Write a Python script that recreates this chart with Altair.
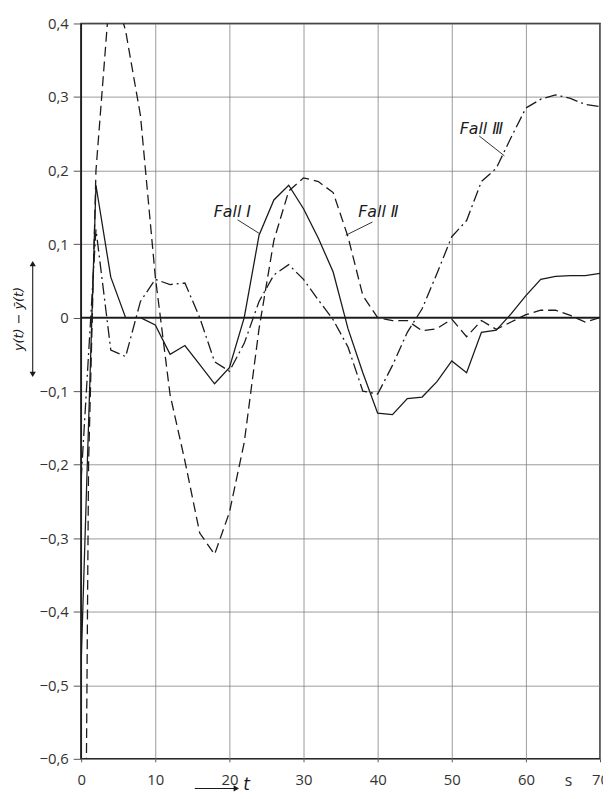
import altair as alt
import pandas as pd

# ---------------- data ----------------
t_fall1 = [0, 2, 4, 6, 8, 10, 12, 14, 16, 18, 20, 22, 24, 26, 28, 30, 32, 34,
           36, 38, 40, 42, 44, 46, 48, 50, 52, 54, 56, 58, 60, 62, 64, 66, 68, 70]
y_fall1 = [-0.47, 0.18, 0.055, 0.0, 0.0, -0.01, -0.05, -0.038, -0.064, -0.09,
           -0.068, 0.0, 0.112, 0.16, 0.18, 0.148, 0.108, 0.062, -0.015, -0.075,
           -0.13, -0.132, -0.11, -0.108, -0.087, -0.059, -0.075, -0.02, -0.017,
           0.005, 0.03, 0.052, 0.056, 0.057, 0.057, 0.06]

t_fall2 = [0, 1, 2, 4, 6, 8, 10, 12, 14, 16, 18, 20, 22, 24, 26, 28, 30, 32, 34,
           36, 38, 40, 42, 44, 46, 48, 50, 52, 54, 56, 58, 60, 62, 64, 66, 68, 70]
y_fall2 = [-1.6, -0.2, 0.2, 0.46, 0.39, 0.275, 0.056, -0.105, -0.195, -0.293,
           -0.322, -0.265, -0.17, -0.015, 0.105, 0.172, 0.19, 0.185, 0.17, 0.11,
           0.03, 0.0, -0.004, -0.004, -0.018, -0.015, -0.002, -0.026, -0.004,
           -0.016, -0.006, 0.004, 0.01, 0.01, 0.003, -0.006, 0.0]

t_fall3 = [0, 2, 4, 6, 8, 10, 12, 14, 16, 18, 20, 22, 24, 26, 28, 30, 32, 34,
           36, 38, 40, 42, 44, 46, 48, 50, 52, 54, 56, 58, 60, 62, 64, 66, 68, 70]
y_fall3 = [-0.22, 0.12, -0.044, -0.053, 0.022, 0.052, 0.045, 0.047, 0.0, -0.06,
           -0.073, -0.035, 0.022, 0.058, 0.072, 0.052, 0.024, -0.003, -0.04, -0.1,
           -0.104, -0.065, -0.02, 0.012, 0.06, 0.11, 0.132, 0.185, 0.203, 0.245,
           0.285, 0.297, 0.303, 0.298, 0.29, 0.287]

x_ticks = [0, 10, 20, 30, 40, 50, 60, 70]
y_ticks = [-0.6, -0.5, -0.4, -0.3, -0.2, -0.1, 0.0, 0.1, 0.2, 0.3, 0.4]

label_text = ["Fall \u2160", "Fall \u2161", "Fall \u2162"]
label_t = [20.4, 40.1, 54.0]
label_y = [0.144, 0.144, 0.257]
leader_t1 = [21.1, 39.3, 53.7]
leader_y1 = [0.133, 0.130, 0.247]
leader_t2 = [24.1, 35.7, 57.1]
leader_y2 = [0.114, 0.112, 0.220]

# ---------------- chart ----------------
FONT = "Open Sans"
INK = "#1a1a1a"

xs = alt.Scale(domain=[0, 70], nice=False, zero=False)
ys = alt.Scale(domain=[-0.6, 0.4], nice=False, zero=False)

x_axis = alt.Axis(values=x_ticks, format="d", title=None, grid=True,
                  gridColor="#808080", gridWidth=0.8, domain=False,
                  tickColor="#555", tickSize=3, labelPadding=11,
                  labelFlush=False, labelOverlap=False, labelBound=False,
                  labelFont=FONT, labelFontSize=15, labelColor="#333")
y_axis = alt.Axis(values=y_ticks, title=None, grid=True,
                  labelExpr="datum.value == 0 ? '0' : replace(format(datum.value, '.1f'), '.', ',')",
                  gridColor="#808080", gridWidth=0.8, domain=False,
                  tickColor="#555", tickSize=8, labelPadding=5,
                  labelOverlap=False, labelFont=FONT, labelFontSize=15,
                  labelColor="#333")


def X(field):
    return alt.X(field, scale=xs, axis=x_axis, title=None)


def Y(field):
    return alt.Y(field, scale=ys, axis=y_axis, title=None)


df1 = pd.DataFrame({"t": t_fall1, "v": y_fall1})
df2 = pd.DataFrame({"t": t_fall2, "v": y_fall2})
df3 = pd.DataFrame({"t": t_fall3, "v": y_fall3})

l1 = alt.Chart(df1).mark_line(color=INK, strokeWidth=1.3, clip=True).encode(
    x=X("t:Q"), y=Y("v:Q"))
l2 = alt.Chart(df2).mark_line(color=INK, strokeWidth=1.3, clip=True,
                              strokeDash=[10, 5]).encode(
    x=X("t:Q"), y=Y("v:Q"))
l3 = alt.Chart(df3).mark_line(color=INK, strokeWidth=1.3, clip=True,
                              strokeDash=[12, 4, 2, 4]).encode(
    x=X("t:Q"), y=Y("v:Q"))

zero = alt.Chart(pd.DataFrame({"z": [0.0]})).mark_rule(
    color=INK, strokeWidth=1.6).encode(y=Y("z:Q"))

left_edge = alt.Chart(pd.DataFrame({"z": [0.0]})).mark_rule(
    color=INK, strokeWidth=1.6).encode(x=X("z:Q"))

ann = pd.DataFrame({"label": label_text, "t": label_t, "y": label_y,
                    "t1": leader_t1, "y1": leader_y1,
                    "t2": leader_t2, "y2": leader_y2})

labels = alt.Chart(ann).mark_text(font="DejaVu Sans", fontStyle="italic",
                                  fontSize=16, color=INK, align="center",
                                  baseline="middle").encode(
    x=X("t:Q"), y=Y("y:Q"), text="label:N")
leaders = alt.Chart(ann).mark_rule(color=INK, strokeWidth=0.9).encode(
    x=X("t1:Q"), y=Y("y1:Q"), x2="t2:Q", y2="y2:Q")

one = pd.DataFrame({"a": [0]})
# y-axis title with double arrow
ytitle = alt.Chart(one).mark_text(font="DejaVu Sans", fontStyle="italic",
                                  fontSize=13, color=INK, angle=270,
                                  align="center", baseline="middle").encode(
    x=alt.value(-63), y=alt.value(299), text=alt.value("y(t) \u2212 \u0233(t)"))
yarrow = alt.Chart(one).mark_rule(color=INK, strokeWidth=1.1).encode(
    x=alt.value(-49), y=alt.value(242), y2=alt.value(356))
yhead_up = alt.Chart(one).mark_point(shape="triangle-up", filled=True,
                                     color=INK, size=40, opacity=1).encode(
    x=alt.value(-49), y=alt.value(243))
yhead_dn = alt.Chart(one).mark_point(shape="triangle-down", filled=True,
                                     color=INK, size=40, opacity=1).encode(
    x=alt.value(-49), y=alt.value(355))

# x-axis title: arrow and t, unit s
xarrow = alt.Chart(one).mark_rule(color=INK, strokeWidth=1.1).encode(
    x=alt.value(115), x2=alt.value(158), y=alt.value(774))
xhead = alt.Chart(one).mark_point(shape="triangle-right", filled=True,
                                  color=INK, size=40, opacity=1).encode(
    x=alt.value(157), y=alt.value(774))
xt = alt.Chart(one).mark_text(font="DejaVu Sans", fontStyle="italic",
                              fontSize=17, color=INK, align="left",
                              baseline="middle").encode(
    x=alt.value(164), y=alt.value(771), text=alt.value("t"))
xs_unit = alt.Chart(one).mark_text(font=FONT, fontSize=16, color="#333",
                                   align="center", baseline="middle").encode(
    x=alt.value(493), y=alt.value(766), text=alt.value("s"))

chart = alt.layer(
    l1, l2, l3, zero, left_edge, leaders, labels,
    ytitle, yarrow, yhead_up, yhead_dn, xarrow, xhead, xt, xs_unit,
).properties(
    width=525, height=744,
    autosize=alt.AutoSizeParams(type="none"),
    padding={"left": 74, "top": 11, "right": 3, "bottom": 36},
    background="white",
).configure_view(stroke=INK, strokeWidth=1.5)

chart.save("out.html", embed_options={"renderer": "svg", "actions": False})
